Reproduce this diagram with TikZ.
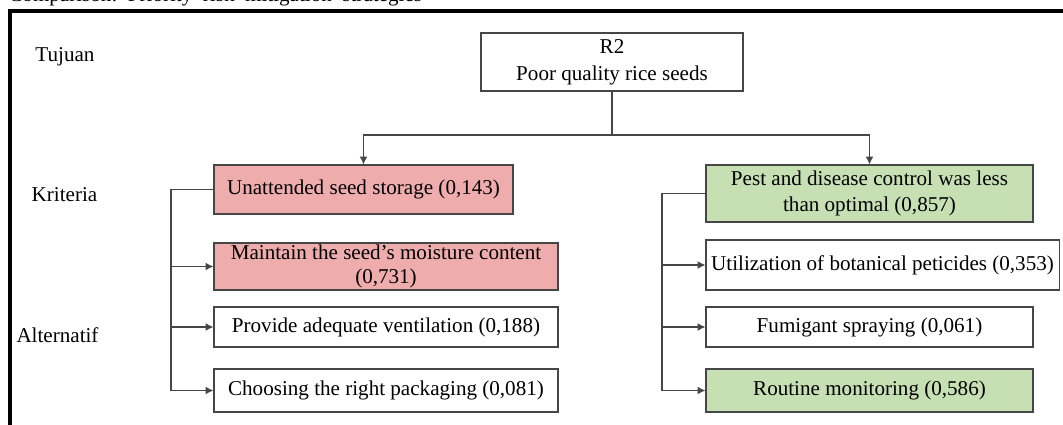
\documentclass[tikz,border=0pt]{standalone}
\usepackage{fontspec}
\setmainfont{Liberation Serif}
\usepackage{xcolor}
\usetikzlibrary{shapes,arrows,arrows.meta,positioning,calc}

\definecolor{rosy}{RGB}{239,172,172}
\definecolor{leaf}{RGB}{198,224,180}
\definecolor{edge}{RGB}{70,70,70}

\begin{document}
\begin{tikzpicture}[x=0.025cm, y=-0.025cm,
    level/.style={font=\fontsize{15}{19}\selectfont},
    box/.style={rectangle, draw=edge, line width=0.8pt, fill=white, align=center, inner sep=1pt, font=\fontsize{15}{19}\selectfont},
    pinkbox/.style={box, fill=rosy},
    greenbox/.style={box, fill=leaf},
    link/.style={draw=edge, line width=0.8pt, >={Latex[length=5.5pt,width=5.5pt]}}]

  \useasboundingbox (0,0) rectangle (1063,424);
  \clip (0,0) rectangle (1063,424);

  % cut caption and frame
  \node[level, anchor=base east] (caption) at (427,1.5) {Comparison:\ \ Priority\ \ risk\ \ mitigation\ \ strategies};
  \draw[line width=2.2pt] (10,11) rectangle (1090,450);

  % levels
  \node[level] (tujuan) at (65,57) {Tujuan};
  \node[level] (kriteria) at (64.5,195) {Kriteria};
  \node[level] (alternatif) at (57.5,335) {Alternatif};

  % goal
  \node[box, minimum width=6.55cm, minimum height=1.45cm] (goal) at (612,62) {R2\\Poor quality rice seeds};

  % criteria
  \node[pinkbox, minimum width=7.475cm, minimum height=1.225cm] (crit1) at (363.5,189.5) {Unattended seed storage (0,143)};
  \node[greenbox, minimum width=8.175cm, minimum height=1.425cm] (crit2) at (869.5,193.5) {Pest and disease control was less\\than optimal (0,857)};

  % alternatives
  \node[pinkbox, minimum width=8.6cm, minimum height=1.175cm, font=\fontsize{15}{16.5}\selectfont] (alt11) at (386,266.5) {Maintain the seed's moisture content\\(0,731)};
  \node[box, minimum width=8.6cm, minimum height=1.0cm] (alt12) at (386,327) {Provide adequate ventilation (0,188)};
  \node[box, minimum width=8.6cm, minimum height=1.075cm] (alt13) at (386,390.5) {Choosing the right packaging (0,081)};

  \node[box, minimum width=8.825cm, minimum height=1.25cm] (alt21) at (882.5,265) {Utilization of botanical peticides (0,353)};
  \node[box, minimum width=8.175cm, minimum height=1.0cm] (alt22) at (869.5,327) {Fumigant spraying (0,061)};
  \node[greenbox, minimum width=8.175cm, minimum height=1.075cm] (alt23) at (869.5,390.5) {Routine monitoring (0,586)};

  \coordinate (split) at (612,135);
  \coordinate (lbus) at (171,0);
  \coordinate (rbus) at (662,0);

  \draw[link] (goal.south) -- (split);
  \draw[link, ->] (split) -| (crit1.north);
  \draw[link, ->] (split) -| (crit2.north);

  \draw[link] (crit1.west) -| (alt13.west -| lbus);
  \draw[link, ->] (alt11.west -| lbus) -- (alt11.west);
  \draw[link, ->] (alt12.west -| lbus) -- (alt12.west);
  \draw[link, ->] (alt13.west -| lbus) -- (alt13.west);

  \draw[link] (crit2.west) -| (alt23.west -| rbus);
  \draw[link, ->] (alt21.west -| rbus) -- (alt21.west);
  \draw[link, ->] (alt22.west -| rbus) -- (alt22.west);
  \draw[link, ->] (alt23.west -| rbus) -- (alt23.west);
\end{tikzpicture}
\end{document}
